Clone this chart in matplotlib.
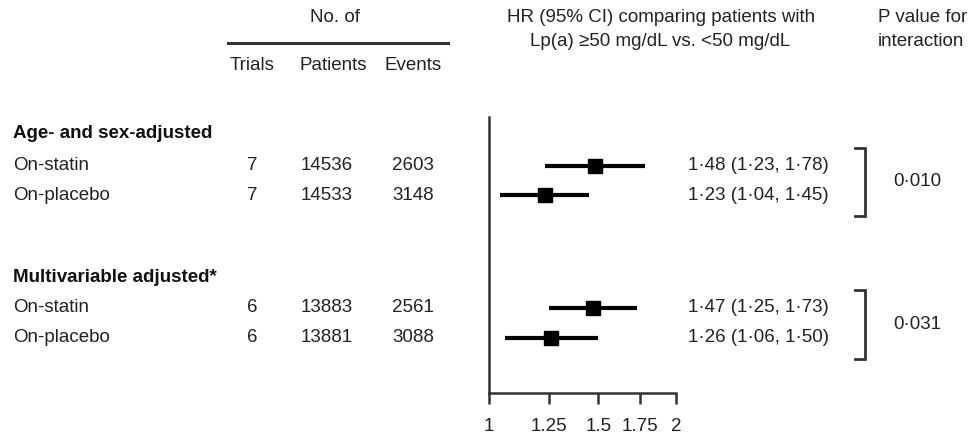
import matplotlib
matplotlib.use("Agg")
import matplotlib.pyplot as plt
import numpy as np

plt.rcParams['font.family'] = ['Liberation Sans', 'DejaVu Sans']

# Data
groups = ["Age- and sex-adjusted", "Multivariable adjusted*"]
rows = ["On-statin", "On-placebo", "On-statin", "On-placebo"]
trials = [7, 7, 6, 6]
patients = [14536, 14533, 13883, 13881]
events = [2603, 3148, 2561, 3088]
hr = [1.48, 1.23, 1.47, 1.26]
ci_lo = [1.23, 1.04, 1.25, 1.06]
ci_hi = [1.78, 1.45, 1.73, 1.50]
p_interaction = ["0·010", "0·031"]
xticks = [1, 1.25, 1.5, 1.75, 2]
xticklabels = ["1", "1.25", "1.5", "1.75", "2"]

W, H = 971, 434
fig = plt.figure(figsize=(W / 100, H / 100), dpi=100)

# background axes in pixel coordinates for the table text
bg = fig.add_axes([0, 0, 1, 1])
bg.set_xlim(0, W)
bg.set_ylim(H, 0)
bg.set_axis_off()

fs = 13.5
col = '#222222'
row_y = [166, 195, 308, 338]
head_y = [134, 278]

# column headers
bg.text(335, 18, "No. of", ha='center', va='center', fontsize=fs, color=col)
bg.plot([228, 448], [43, 43], color='#333333', lw=2.2)
bg.text(252, 66, "Trials", ha='center', va='center', fontsize=fs, color=col)
bg.text(333, 66, "Patients", ha='center', va='center', fontsize=fs, color=col)
bg.text(413, 66, "Events", ha='center', va='center', fontsize=fs, color=col)
bg.text(661, 18, "HR (95% CI) comparing patients with", ha='center', va='center',
        fontsize=fs, color=col)
bg.text(660, 41, "Lp(a) ≥50 mg/dL vs. <50 mg/dL", ha='center', va='center',
        fontsize=fs, color=col)
bg.text(878, 18, "P value for", ha='left', va='center', fontsize=fs, color=col)
bg.text(878, 41, "interaction", ha='left', va='center', fontsize=fs, color=col)

for g, y in zip(groups, head_y):
    bg.text(13, y, g, ha='left', va='center', fontsize=fs, fontweight='bold', color='#111111')

for i, y in enumerate(row_y):
    bg.text(13, y, rows[i], ha='left', va='center', fontsize=fs, color=col)
    bg.text(252, y, str(trials[i]), ha='center', va='center', fontsize=fs, color=col)
    bg.text(327, y, str(patients[i]), ha='center', va='center', fontsize=fs, color=col)
    bg.text(413, y, str(events[i]), ha='center', va='center', fontsize=fs, color=col)
    label = f"{hr[i]:.2f} ({ci_lo[i]:.2f}, {ci_hi[i]:.2f})".replace('.', '·')
    bg.text(688, y, label, ha='left', va='center', fontsize=fs, color=col)

# brackets and p values
for k, p in enumerate(p_interaction):
    y0 = row_y[2 * k] - 18
    y1 = row_y[2 * k + 1] + 21
    bg.plot([855, 865, 865, 855], [y0, y0, y1, y1], color='#333333', lw=2,
            solid_joinstyle='miter')
    bg.text(917, (y0 + y1) / 2, p, ha='center', va='center', fontsize=fs, color=col)

# forest plot axes (log scale)
x0, x1 = 489, 676
ytop, ybot = 117, 393
ax = fig.add_axes([x0 / W, (H - ybot) / H, (x1 - x0) / W, (ybot - ytop) / H])
ax.patch.set_alpha(0)
ax.set_xscale('log')
ax.set_xlim(1, 2)
ax.set_ylim(ybot, ytop)
for s in ['top', 'right']:
    ax.spines[s].set_visible(False)
for s in ['left', 'bottom']:
    ax.spines[s].set_linewidth(1.8)
    ax.spines[s].set_color('#333333')
ax.set_yticks([])
ax.set_xticks(xticks)
ax.set_xticklabels(xticklabels, fontsize=fs, color=col)
ax.xaxis.set_minor_locator(matplotlib.ticker.NullLocator())
ax.tick_params(axis='x', length=8, width=1.8, color='#333333', pad=10)

for i, y in enumerate(row_y):
    ax.plot([ci_lo[i], ci_hi[i]], [y, y], color='black', lw=3, solid_capstyle='butt')
    ax.plot(hr[i], y, marker='s', markersize=10, color='black', clip_on=False)

fig.savefig("out.png", dpi=100)
